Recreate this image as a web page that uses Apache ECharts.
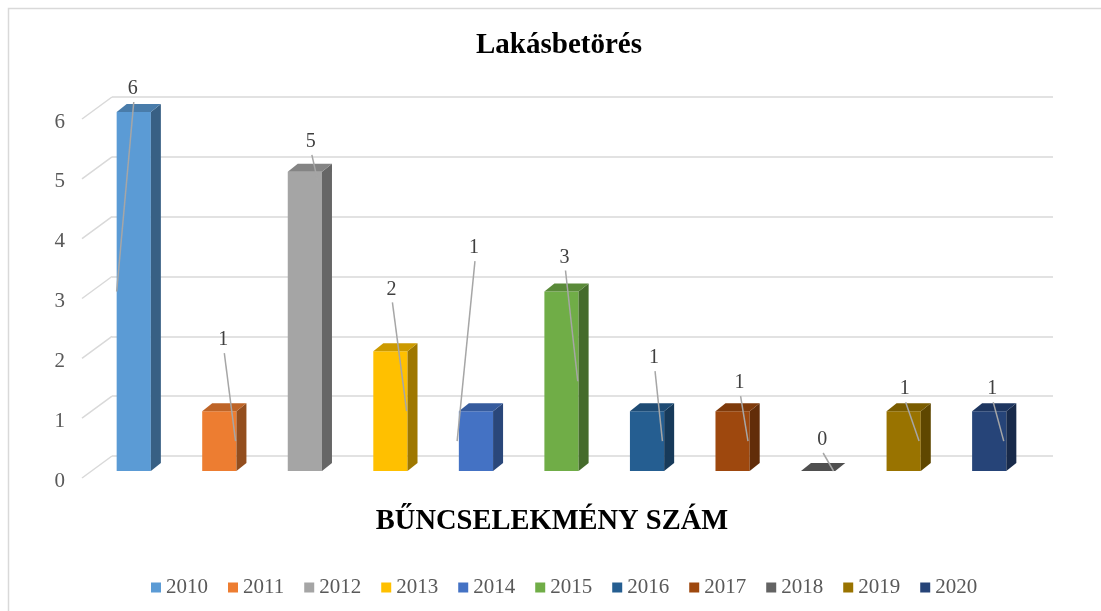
<!DOCTYPE html>
<html>
<head>
<meta charset="utf-8">
<title>Lakásbetörés</title>
<script src="https://cdn.jsdelivr.net/npm/echarts@6/dist/echarts.min.js"></script>
<style>
  html, body { margin: 0; padding: 0; background: #fff; }
  #chart { width: 1101px; height: 611px; }
</style>
</head>
<body>
<div id="chart"></div>
<script>
// adatok
var years = ['2010', '2011', '2012', '2013', '2014', '2015', '2016', '2017', '2018', '2019', '2020'];
var counts = [6, 1, 5, 2, 1, 3, 1, 1, 0, 1, 1];
var yTicks = [0, 1, 2, 3, 4, 5, 6];

// színek (Office paletta)
var barColors = ['#5B9BD5', '#ED7D31', '#A5A5A5', '#FFC000', '#4472C4', '#70AD47',
                 '#255E91', '#9E480E', '#636363', '#997300', '#264478'];

// címke eltolás az oszlop elülső tetejéhez képest, és a vezetővonal vége (fél szélesség / érték arány)
var labelShift = [[-1, -23], [4, -71], [6, -30], [1, -62], [-2, -163], [3, -34], [7, -53], [7, -28], [4, -31], [1, -22], [3, -22]];
var leaderEnd = [[-1, 0.5], [0.95, 0.5], [0.75, 0.97], [0.95, 0.5], [-1.1, 0.5], [0.95, 0.5], [0.9, 0.5], [0.9, 0.5], [0.9, 0], [0.9, 0.5], [0.85, 0.5]];

var SERIF = '"Liberation Serif", "Times New Roman", serif';
// 3D eltolások
var FRONT_DX = -21, FRONT_DY = 15;   // oszlop eleje a hátfalhoz képest
var DEPTH_DX = 10, DEPTH_DY = -8;    // oszlop mélysége
var WALL_DX = -30, WALL_DY = 22;     // oldalfal

function shade(hex, f) {
  var n = parseInt(hex.slice(1), 16);
  var r = Math.round(((n >> 16) & 255) * f);
  var g = Math.round(((n >> 8) & 255) * f);
  var b = Math.round((n & 255) * f);
  return 'rgb(' + r + ',' + g + ',' + b + ')';
}

var chart = echarts.init(document.getElementById('chart'));

// oldalfal vonalai + tengelyfeliratok
function renderWall(params, api) {
  var v = api.value(1);
  var x0 = params.coordSys.x;
  var y0 = api.coord([0, v])[1];
  return {
    type: 'group',
    children: [{
      type: 'line',
      shape: { x1: x0 + WALL_DX, y1: y0 + WALL_DY, x2: x0, y2: y0 },
      style: { stroke: '#D9D9D9', lineWidth: 1.5 }
    }, {
      type: 'text',
      style: {
        text: String(v), x: x0 + WALL_DX - 17, y: y0 + WALL_DY + 3,
        align: 'right', verticalAlign: 'middle',
        font: '21px ' + SERIF, fill: '#595959'
      }
    }]
  };
}

function makeBar(k) {
  return function (params, api) {
    var i = api.value(0), v = api.value(1);
    var bw = api.size([1, 0])[0] * 0.4, hw = bw / 2;
    var p0 = api.coord([i, 0]), p1 = api.coord([i, v]);
    var cx = p0[0] + FRONT_DX, yb = p0[1] + FRONT_DY, yt = p1[1] + FRONT_DY;
    var c = barColors[k];
    var children = [];
    if (v > 0) {
      children.push({
        type: 'rect',
        shape: { x: cx - hw, y: yt, width: bw, height: yb - yt },
        style: { fill: c }
      });
      children.push({
        type: 'polygon',
        shape: { points: [[cx + hw, yt], [cx + hw + DEPTH_DX, yt + DEPTH_DY], [cx + hw + DEPTH_DX, yb + DEPTH_DY], [cx + hw, yb]] },
        style: { fill: shade(c, 0.62) }
      });
    }
    children.push({
      type: 'polygon',
      shape: { points: [[cx - hw, yt], [cx - hw + DEPTH_DX, yt + DEPTH_DY], [cx + hw + DEPTH_DX, yt + DEPTH_DY], [cx + hw, yt]] },
      style: { fill: shade(c, 0.8) }
    });
    // adatcímke vezetővonallal
    var s = labelShift[k], e = leaderEnd[k];
    var lx = cx + s[0], ly = yt + s[1];
    var ey = api.coord([i, v * e[1]])[1] + FRONT_DY;
    children.push({
      type: 'line',
      shape: { x1: lx + 1, y1: ly + 13, x2: cx + hw * e[0], y2: ey },
      style: { stroke: '#A6A6A6', lineWidth: 1.5 }
    });
    children.push({
      type: 'text',
      style: {
        text: String(v), x: lx, y: ly, align: 'center', verticalAlign: 'middle',
        font: '20px ' + SERIF, fill: '#404040'
      }
    });
    return { type: 'group', children: children };
  };
}

var series = [{
  type: 'custom',
  name: 'wall',
  silent: true,
  clip: false,
  data: yTicks.map(function (v) { return [0, v]; }),
  renderItem: renderWall
}];
years.forEach(function (y, k) {
  series.push({
    type: 'custom',
    name: y,
    clip: false,
    itemStyle: { color: barColors[k] },
    data: [[k, counts[k]]],
    renderItem: makeBar(k)
  });
});

var option = {
  animation: false,
  backgroundColor: '#fff',
  title: [{
    text: 'Lakásbetörés',
    left: 554, top: 26, textAlign: 'center',
    textStyle: { fontFamily: SERIF, fontSize: 29, fontWeight: 'bold', color: '#000' }
  }, {
    text: 'BŰNCSELEKMÉNY SZÁM',
    left: 547, top: 502, textAlign: 'center',
    textStyle: { fontFamily: SERIF, fontSize: 28.5, fontWeight: 'bold', color: '#000' }
  }],
  legend: {
    data: years,
    left: 146, top: 572,
    icon: 'rect', itemWidth: 10, itemHeight: 10, itemGap: 20,
    textStyle: { fontFamily: SERIF, fontSize: 21, color: '#595959' }
  },
  grid: { left: 112, right: 48, top: 97, bottom: 155 },
  xAxis: {
    type: 'category',
    data: years,
    axisLine: { show: false },
    axisTick: { show: false },
    axisLabel: { show: false }
  },
  yAxis: {
    type: 'value',
    min: 0, max: 6, interval: 1,
    axisLine: { show: false },
    axisTick: { show: false },
    axisLabel: { show: false },
    splitLine: { lineStyle: { color: '#D9D9D9', width: 1.5 } }
  },
  graphic: [{
    type: 'rect',
    shape: { x: 8.5, y: 8.5, width: 1200, height: 800 },
    style: { fill: 'none', stroke: '#D9D9D9', lineWidth: 1.5 },
    silent: true
  }],
  series: series
};

chart.setOption(option);
</script>
</body>
</html>
